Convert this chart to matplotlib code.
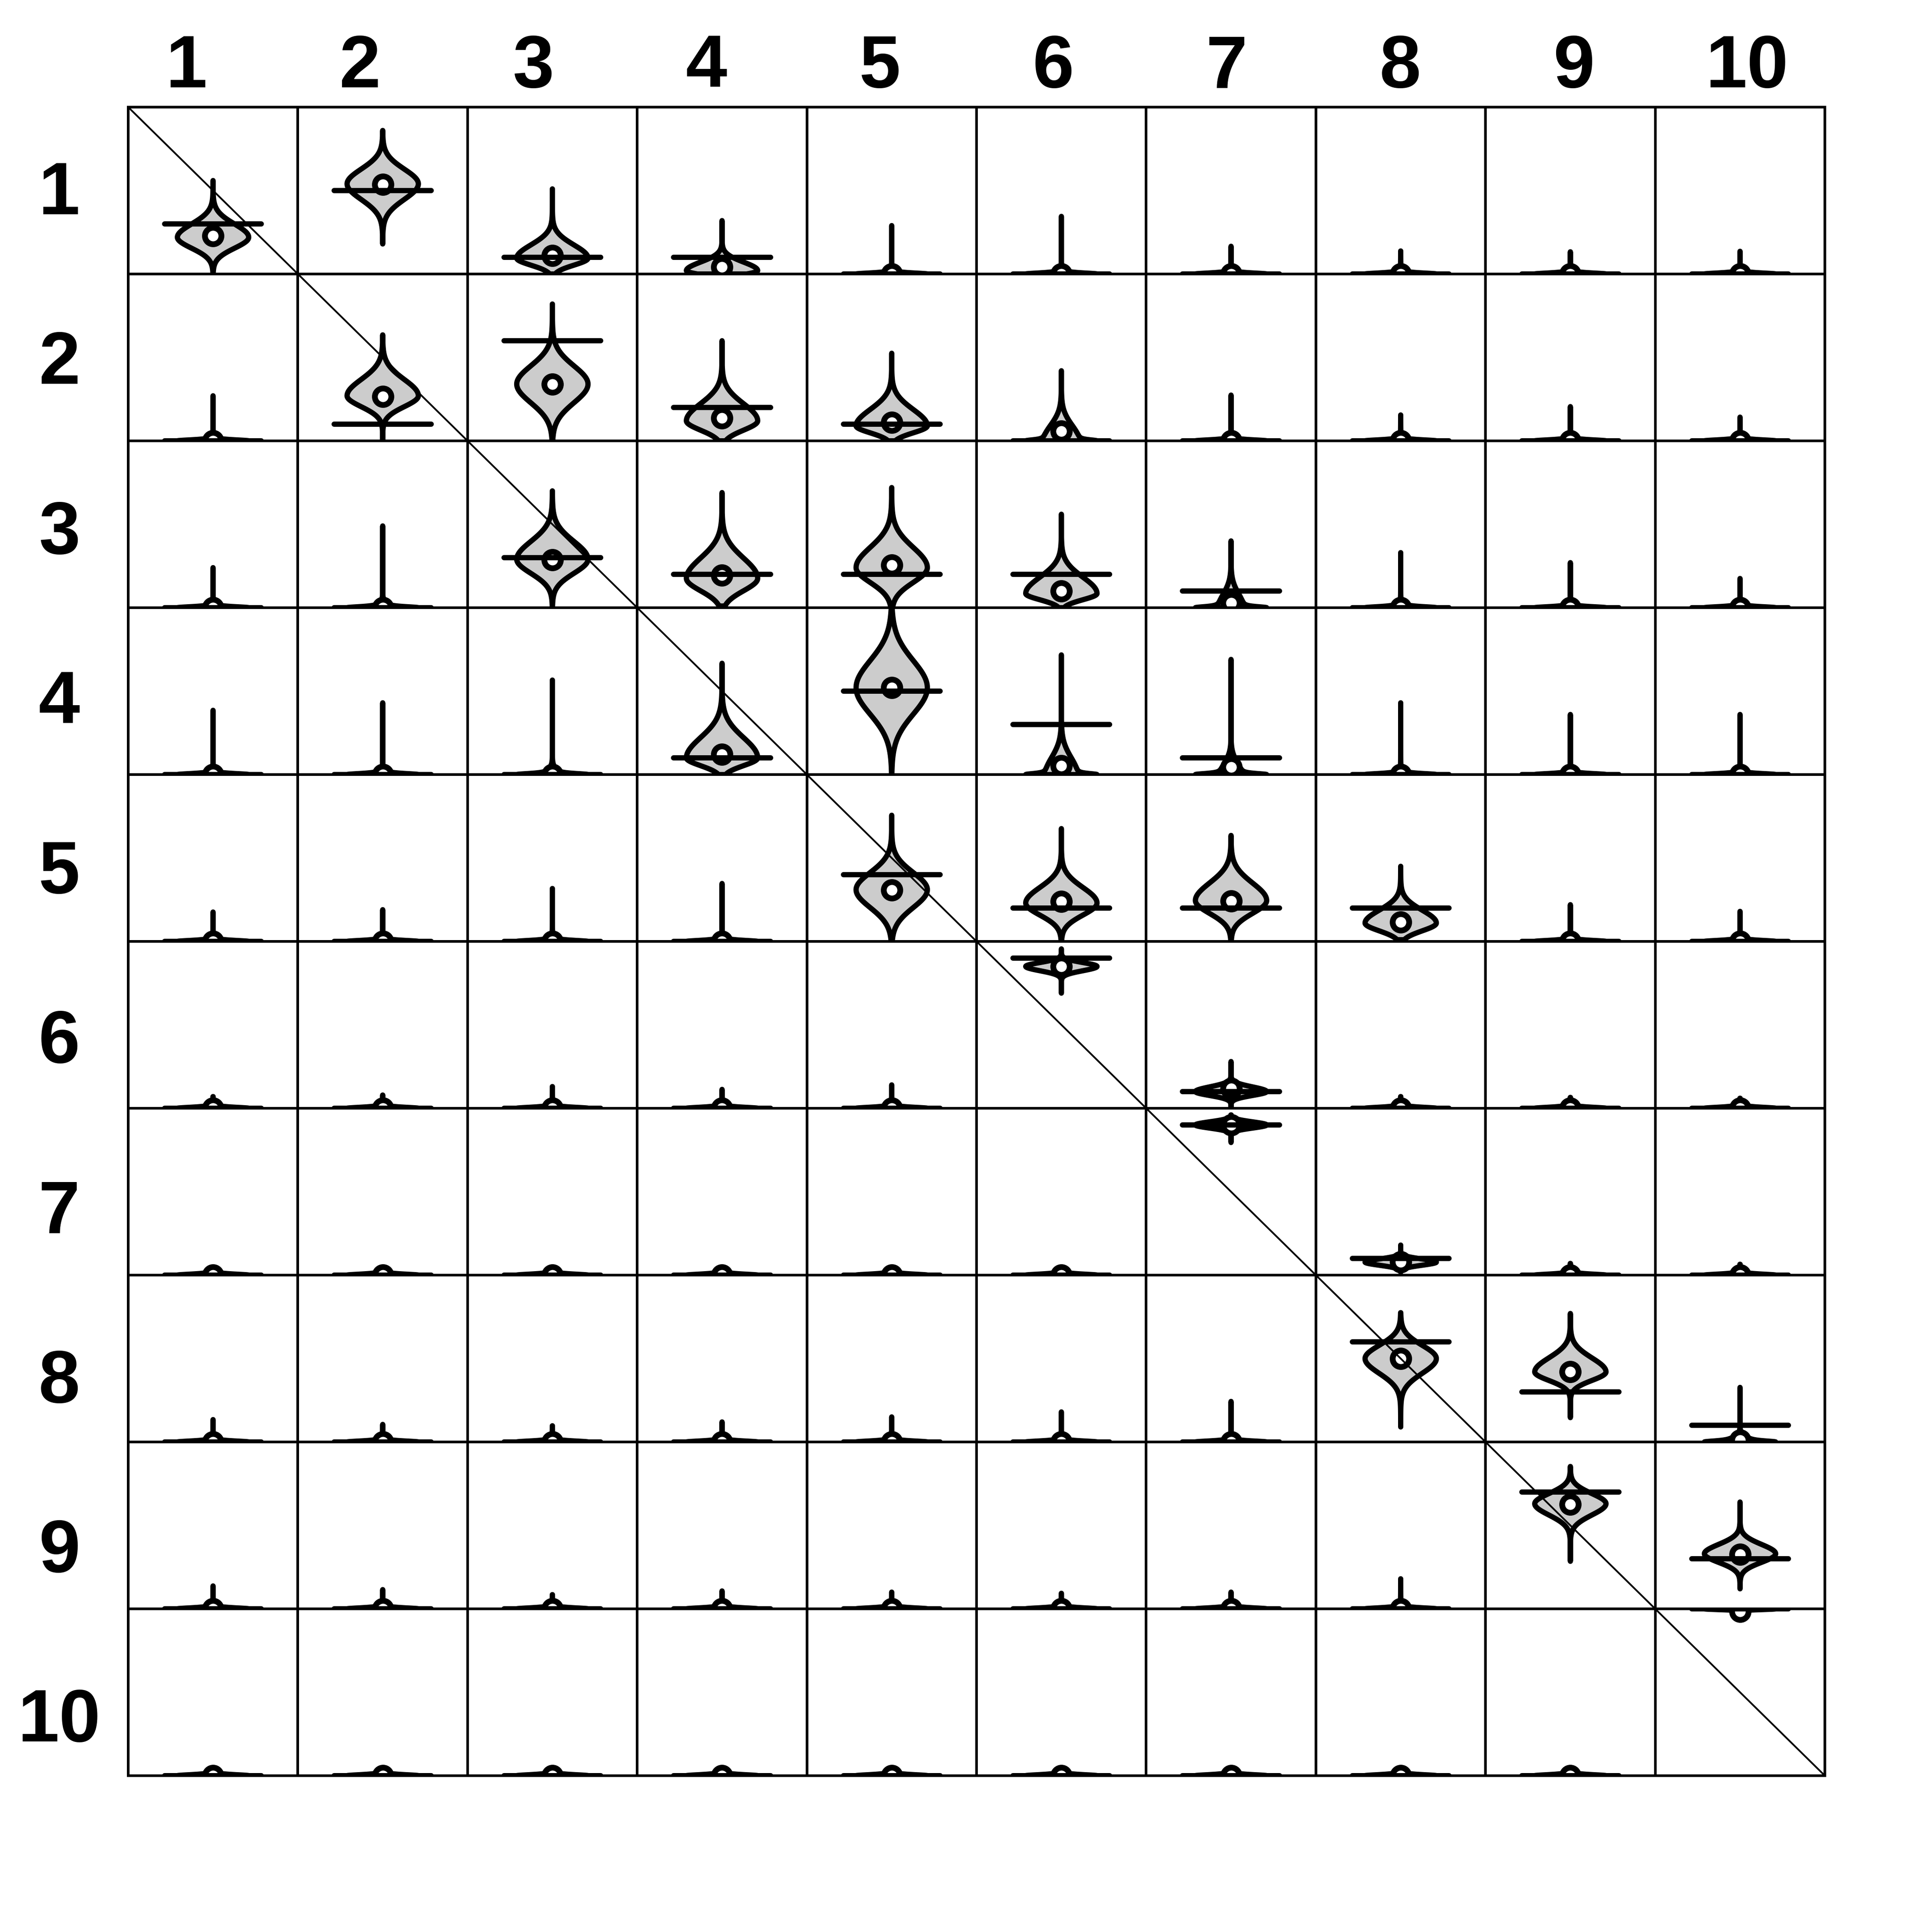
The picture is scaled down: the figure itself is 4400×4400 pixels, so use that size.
import numpy as np
import matplotlib
matplotlib.use("Agg")
import matplotlib.pyplot as plt
from matplotlib.lines import Line2D

# state labels (rows = from, columns = to)
labels = [str(k) for k in range(1, 11)]

# true transition probabilities (horizontal bars)
truth = [
    [0.30, 0.50, 0.10, 0.10, 0, 0, 0, 0, 0, 0],
    [0, 0.10, 0.60, 0.20, 0.10, 0, 0, 0, 0, 0],
    [0, 0, 0.30, 0.20, 0.20, 0.20, 0.10, 0, 0, 0],
    [0, 0, 0, 0.10, 0.50, 0.30, 0.10, 0, 0, 0],
    [0, 0, 0, 0, 0.40, 0.20, 0.20, 0.20, 0, 0],
    [0, 0, 0, 0, 0, 0.90, 0.10, 0, 0, 0],
    [0, 0, 0, 0, 0, 0, 0.90, 0.10, 0, 0],
    [0, 0, 0, 0, 0, 0, 0, 0.60, 0.30, 0.10],
    [0, 0, 0, 0, 0, 0, 0, 0, 0.70, 0.30],
    [0, 0, 0, 0, 0, 0, 0, 0, 0, 1.00],
]

# posterior medians (open circles)
median = [
    [0.23, 0.536, 0.11, 0.042, 0, 0, 0, 0, 0, 0],
    [0, 0.267, 0.34, 0.136, 0.11, 0.058, 0, 0, 0, 0],
    [0, 0, 0.287, 0.196, 0.256, 0.10, 0.03, 0, 0, 0],
    [0, 0, 0, 0.12, 0.52, 0.053, 0.045, 0, 0, 0],
    [0, 0, 0, 0, 0.307, 0.24, 0.242, 0.115, 0, 0],
    [0, 0, 0, 0, 0, 0.85, 0.118, 0, 0, 0],
    [0, 0, 0, 0, 0, 0, 0.90, 0.08, 0, 0],
    [0, 0, 0, 0, 0, 0, 0, 0.50, 0.42, 0.01],
    [0, 0, 0, 0, 0, 0, 0, 0, 0.627, 0.327],
    [0, 0, 0, 0, 0, 0, 0, 0, 0, 0.985],
]

# violin extent (min / max of the draws)
v_lo = [
    [0, 0.18, 0, 0, 0, 0, 0, 0, 0, 0],
    [0, 0, 0, 0, 0, 0, 0, 0, 0, 0],
    [0, 0, 0, 0.01, 0, 0, 0, 0, 0, 0],
    [0, 0, 0, 0, 0, 0, 0, 0, 0, 0],
    [0, 0, 0, 0, 0, 0, 0, 0.01, 0, 0],
    [0, 0, 0, 0, 0, 0.69, 0, 0, 0, 0],
    [0, 0, 0, 0, 0, 0, 0.795, 0.02, 0, 0],
    [0, 0, 0, 0, 0, 0, 0, 0.09, 0.146, 0],
    [0, 0, 0, 0, 0, 0, 0, 0, 0.285, 0.12],
    [0, 0, 0, 0, 0, 0, 0, 0, 0, 0.985],
]
v_hi = [
    [0.56, 0.86, 0.51, 0.32, 0.29, 0.345, 0.166, 0.138, 0.133, 0.136],
    [0.27, 0.635, 0.82, 0.60, 0.525, 0.42, 0.274, 0.155, 0.205, 0.142],
    [0.24, 0.49, 0.70, 0.69, 0.72, 0.56, 0.40, 0.33, 0.27, 0.175],
    [0.385, 0.43, 0.566, 0.667, 1.0, 0.717, 0.69, 0.43, 0.36, 0.36],
    [0.176, 0.19, 0.317, 0.347, 0.756, 0.676, 0.635, 0.45, 0.22, 0.18],
    [0.07, 0.079, 0.13, 0.113, 0.14, 0.955, 0.28, 0.07, 0.065, 0.06],
    [0.02, 0.02, 0.02, 0.02, 0.02, 0.02, 0.96, 0.18, 0.07, 0.065],
    [0.134, 0.105, 0.097, 0.12, 0.15, 0.18, 0.243, 0.775, 0.77, 0.327],
    [0.137, 0.115, 0.085, 0.107, 0.10, 0.093, 0.10, 0.18, 0.853, 0.64],
    [0.02, 0.02, 0.02, 0.02, 0.02, 0.02, 0.02, 0.02, 0.02, 1.0],
]

# violin body: mode, reach above / below the mode, weight of the body vs the spike at zero
v_mode = [
    [0.22, 0.54, 0.095, 0.02, 0, 0, 0, 0, 0, 0],
    [0, 0.27, 0.34, 0.12, 0.09, 0, 0, 0, 0, 0],
    [0, 0, 0.29, 0.176, 0.24, 0.085, 0, 0, 0, 0],
    [0, 0, 0, 0.10, 0.52, 0, 0, 0, 0, 0],
    [0, 0, 0, 0, 0.31, 0.23, 0.245, 0.11, 0, 0],
    [0, 0, 0, 0, 0, 0.85, 0.10, 0, 0, 0],
    [0, 0, 0, 0, 0, 0, 0.90, 0.078, 0, 0],
    [0, 0, 0, 0, 0, 0, 0, 0.50, 0.42, 0],
    [0, 0, 0, 0, 0, 0, 0, 0, 0.63, 0.33],
    [0, 0, 0, 0, 0, 0, 0, 0, 0, 1.0],
]
v_up = [
    [0.17, 0.19, 0.17, 0.11, 0.05, 0.05, 0.05, 0.05, 0.05, 0.05],
    [0.05, 0.21, 0.235, 0.22, 0.21, 0.20, 0.05, 0.05, 0.05, 0.05],
    [0.05, 0.06, 0.23, 0.26, 0.26, 0.21, 0.18, 0.05, 0.05, 0.05],
    [0.05, 0.05, 0.07, 0.26, 0.35, 0.22, 0.15, 0.05, 0.05, 0.05],
    [0.05, 0.05, 0.05, 0.05, 0.22, 0.20, 0.225, 0.165, 0.05, 0.05],
    [0.05, 0.05, 0.05, 0.05, 0.05, 0.05, 0.06, 0.05, 0.05, 0.05],
    [0.05, 0.05, 0.05, 0.05, 0.05, 0.05, 0.04, 0.04, 0.05, 0.05],
    [0.05, 0.05, 0.05, 0.05, 0.05, 0.05, 0.05, 0.17, 0.18, 0.06],
    [0.05, 0.05, 0.05, 0.05, 0.05, 0.05, 0.05, 0.05, 0.13, 0.12],
    [0.05, 0.05, 0.05, 0.05, 0.05, 0.05, 0.05, 0.05, 0.05, 0.01],
]
v_dn = [
    [0.14, 0.20, 0.09, 0.05, 0.05, 0.05, 0.05, 0.05, 0.05, 0.05],
    [0.05, 0.14, 0.24, 0.12, 0.09, 0.05, 0.05, 0.05, 0.05, 0.05],
    [0.05, 0.05, 0.18, 0.16, 0.19, 0.08, 0.05, 0.05, 0.05, 0.05],
    [0.05, 0.05, 0.05, 0.10, 0.34, 0.05, 0.05, 0.05, 0.05, 0.05],
    [0.05, 0.05, 0.05, 0.05, 0.23, 0.155, 0.165, 0.10, 0.05, 0.05],
    [0.05, 0.05, 0.05, 0.05, 0.05, 0.055, 0.05, 0.05, 0.05, 0.05],
    [0.05, 0.05, 0.05, 0.05, 0.05, 0.05, 0.04, 0.04, 0.05, 0.05],
    [0.05, 0.05, 0.05, 0.05, 0.05, 0.05, 0.05, 0.19, 0.11, 0.05],
    [0.05, 0.05, 0.05, 0.05, 0.05, 0.05, 0.05, 0.05, 0.145, 0.11],
    [0.05, 0.05, 0.05, 0.05, 0.05, 0.05, 0.05, 0.05, 0.05, 0.01],
]
v_body = [
    [1, 1, 1, 1, 0, 0.05, 0, 0, 0, 0],
    [0, 1, 1, 1, 1, 0.5, 0, 0, 0, 0],
    [0, 0.12, 1, 1, 1, 1, 0.35, 0.08, 0, 0],
    [0, 0.08, 0.15, 1, 1, 0.45, 0.3, 0.05, 0, 0],
    [0, 0, 0.05, 0.05, 1, 1, 1, 1, 0, 0],
    [0, 0, 0, 0, 0, 1, 1, 0, 0, 0],
    [0, 0, 0, 0, 0, 0, 1, 1, 0, 0],
    [0, 0, 0, 0, 0, 0, 0, 1, 1, 0.3],
    [0, 0, 0, 0, 0, 0, 0, 0, 1, 1],
    [0, 0, 0, 0, 0, 0, 0, 0, 0, 1],
]

HALF_WIDTH = 0.21    # max half width of a violin, in cell widths
SPIKE = 0.007        # scale of the point mass at zero
PX = 0.72            # points per pixel at dpi 100


def profile(v, mode, up, dn, body):
    """Half width of a violin along v (skewed bump + spike at 0)."""
    d = v - mode
    s = np.where(d > 0, up, dn) / 2.15
    bump = np.exp(-0.5 * (d / s) ** 2)
    spike = (1 + 0.5 * (v / SPIKE) ** 2) ** -1.5
    return HALF_WIDTH * ((1 - body) * spike + body * bump)


fig = plt.figure(figsize=(44, 44), dpi=100)
left, right, top, bottom = 292 / 4400, 4156 / 4400, 1 - 244 / 4400, 1 - 4044 / 4400
gs = fig.add_gridspec(10, 10, left=left, right=right, top=top, bottom=bottom,
                      wspace=0, hspace=0)

for i in range(10):
    for j in range(10):
        ax = fig.add_subplot(gs[i, j])
        ax.set_xlim(-0.5, 0.5)
        ax.set_ylim(0, 1)
        ax.set_xticks([])
        ax.set_yticks([])
        for sp in ax.spines.values():
            sp.set_linewidth(6 * PX)
            sp.set_color("black")

        v = np.linspace(v_lo[i][j], v_hi[i][j], 800)
        h = profile(v, v_mode[i][j], v_up[i][j], v_dn[i][j], v_body[i][j])
        ax.fill(np.concatenate([-h, h[::-1]]), np.concatenate([v, v[::-1]]),
                facecolor="#cccccc", edgecolor="black", linewidth=12 * PX,
                joinstyle="round", zorder=1)

        ax.plot(0, median[i][j], "o", ms=27, mfc="white", mec="black",
                mew=9.5, zorder=2)
        ax.plot([-0.285, 0.285], [truth[i][j], truth[i][j]], color="black",
                lw=12 * PX, solid_capstyle="round", zorder=2.2)

# diagonal across the whole matrix
fig.add_artist(Line2D([left, right], [top, bottom], transform=fig.transFigure,
                      color="black", lw=4 * PX, zorder=10))

font = dict(family=["Liberation Sans", "DejaVu Sans"], fontweight="bold", fontsize=122)
for k, lab in enumerate(labels):
    fig.text((424 + 395 * k) / 4400, 1 - 199 / 4400, lab, ha="center",
             va="baseline", **font)
    fig.text(135 / 4400, 1 - (488 + 386.5 * k) / 4400, lab, ha="center",
             va="baseline", **font)

fig.savefig("out.png", dpi=100, facecolor="white")
